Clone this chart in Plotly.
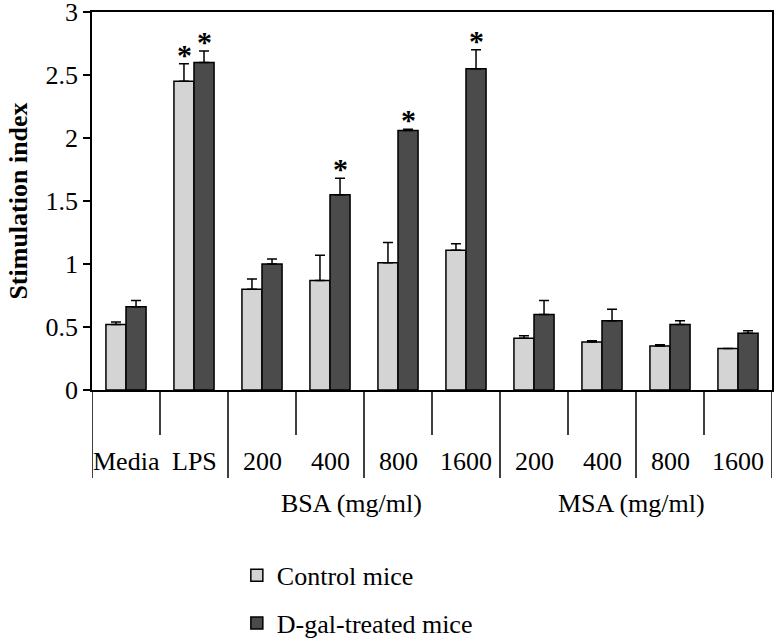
import plotly.graph_objects as go

# --- data ---
categories = ["Media", "LPS", "200", "400", "800", "1600", "200", "400", "800", "1600"]
control = [0.52, 2.45, 0.80, 0.87, 1.01, 1.11, 0.41, 0.38, 0.35, 0.33]
control_err = [0.02, 0.14, 0.08, 0.20, 0.16, 0.05, 0.02, 0.01, 0.01, 0.0]
dgal = [0.66, 2.60, 1.00, 1.55, 2.06, 2.55, 0.60, 0.55, 0.52, 0.45]
dgal_err = [0.05, 0.09, 0.04, 0.13, 0.01, 0.15, 0.11, 0.09, 0.03, 0.02]
control_star = [False, True, False, False, False, False, False, False, False, False]
dgal_star = [False, True, False, True, True, True, False, False, False, False]
groups = ["BSA (mg/ml)", "MSA (mg/ml)"]
group_pos = [3.32, 7.43]
y_ticks = [0, 0.5, 1, 1.5, 2, 2.5, 3]
y_ticklabels = ["0", "0.5", "1", "1.5", "2", "2.5", "3"]

FONT = "Liberation Serif"
FS = 26
LIGHT = "#d4d4d4"
DARK = "#4b4b4b"
xs = list(range(len(categories)))

fig = go.Figure()
fig.add_trace(go.Bar(
    x=xs, y=control, name="Control mice", legendgroup="a",
    marker=dict(color=LIGHT, line=dict(color="black", width=1.5)),
    error_y=dict(type="data", symmetric=False, array=control_err,
                 arrayminus=[0] * len(control), color="black", thickness=1.5, width=5),
))
fig.add_trace(go.Bar(
    x=xs, y=dgal, name="D-gal-treated mice", legendgroup="b",
    marker=dict(color=DARK, line=dict(color="black", width=1.5)),
    error_y=dict(type="data", symmetric=False, array=dgal_err,
                 arrayminus=[0] * len(dgal), color="black", thickness=1.5, width=5),
))

# significance stars
off = 0.147
for i in xs:
    if control_star[i]:
        fig.add_annotation(x=i - off, y=control[i] + control_err[i], text="<b>*</b>",
                           showarrow=False, yanchor="bottom", yshift=-9,
                           font=dict(family=FONT, size=30, color="black"))
    if dgal_star[i]:
        fig.add_annotation(x=i + off, y=dgal[i] + dgal_err[i], text="<b>*</b>",
                           showarrow=False, yanchor="bottom", yshift=-9,
                           font=dict(family=FONT, size=30, color="black"))

# category labels and separators below the axis
for i, c in enumerate(categories):
    fig.add_annotation(x=i, y=-0.19, xref="x", yref="paper", yanchor="middle", text=c,
                       showarrow=False, font=dict(family=FONT, size=FS, color="black"))
for k in range(len(categories) + 1):
    b = k - 0.5
    long = k % 2 == 0
    fig.add_shape(type="line", xref="x", yref="paper", x0=b, x1=b, y0=0,
                  y1=-0.233 if long else -0.119, line=dict(color="black", width=1.5))
for g, p in zip(groups, group_pos):
    fig.add_annotation(x=p, y=-0.30, xref="x", yref="paper", yanchor="middle", text=g,
                       showarrow=False, font=dict(family=FONT, size=FS, color="black"))

fig.update_layout(
    width=774, height=641,
    margin=dict(l=92, r=2, t=12, b=251),
    plot_bgcolor="white", paper_bgcolor="white",
    barmode="group", bargap=0.41, bargroupgap=0,
    font=dict(family=FONT, size=FS, color="black"),
    showlegend=True,
    legend=dict(xref="paper", yref="container", x=0.213, y=0.139,
                xanchor="left", yanchor="top", tracegroupgap=11,
                font=dict(family=FONT, size=FS), bgcolor="rgba(0,0,0,0)"),
    xaxis=dict(range=[-0.5, 9.5], showticklabels=False, ticks="", showgrid=False,
               zeroline=False, showline=True, linecolor="black", linewidth=1.5, mirror=True,
               automargin=False),
    yaxis=dict(range=[0, 3], tickvals=y_ticks, ticktext=y_ticklabels, ticks="outside",
               ticklen=7, tickwidth=1.5, tickcolor="black", showgrid=False, zeroline=False,
               showline=True, linecolor="black", linewidth=1.5, mirror=True, automargin=False,
               ticklabeloverflow="allow",
               title=dict(text="<b>Stimulation index</b>", font=dict(family=FONT, size=FS),
                          standoff=10)),
)

# the page's default body margin and scroll area would offset the fixed-size figure
fig.write_html(
    "out.html",
    config={"displayModeBar": False},
    post_script="document.body.style.margin='0';"
                "document.body.style.overflow='hidden';"
                "document.documentElement.style.overflow='hidden';",
)
